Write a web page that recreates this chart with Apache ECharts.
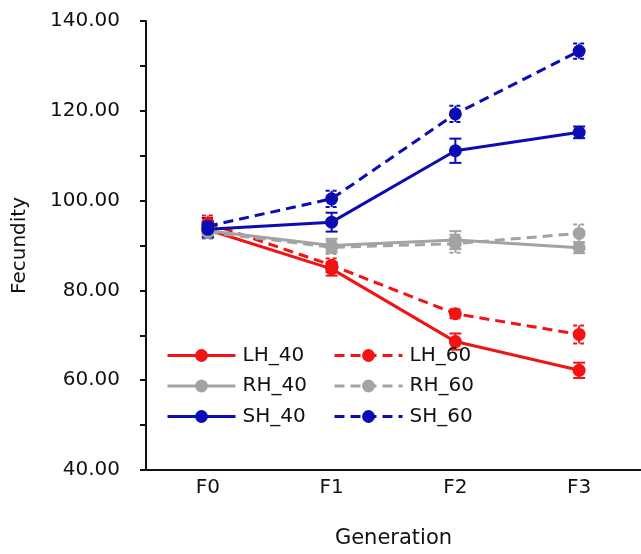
<!DOCTYPE html>
<html>
<head>
<meta charset="utf-8">
<script src="https://cdn.jsdelivr.net/npm/echarts@6/dist/echarts.min.js"></script>
<style>
  html, body { margin: 0; padding: 0; background: #fff; }
  #chart { width: 641px; height: 554px; }
</style>
</head>
<body>
<div id="chart"></div>
<script>
const categories = ["F0", "F1", "F2", "F3"];
const lh40 = [93.5, 84.8, 68.6, 62.2];
const lh40Err = [1.5, 1.5, 1.8, 1.7];
const lh60 = [95.0, 85.6, 74.8, 70.2];
const lh60Err = [1.7, 1.5, 1.0, 2.0];
const rh40 = [93.3, 90.0, 91.2, 89.5];
const rh40Err = [1.5, 1.5, 2.0, 1.2];
const rh60 = [93.0, 89.6, 90.4, 92.7];
const rh60Err = [1.5, 1.5, 2.0, 2.0];
const sh40 = [93.6, 95.2, 111.1, 115.2];
const sh40Err = [1.8, 2.1, 2.7, 1.3];
const sh60 = [94.3, 100.4, 119.3, 133.3];
const sh60Err = [1.8, 1.8, 1.8, 1.7];

const RED = "#f01414", GREY = "#a3a3a3", BLUE = "#0c0cb4";
const font = "DejaVu Sans";

const groups = [
  { name: "LH_40", data: lh40, err: lh40Err, color: RED, dashed: false },
  { name: "LH_60", data: lh60, err: lh60Err, color: RED, dashed: true },
  { name: "RH_40", data: rh40, err: rh40Err, color: GREY, dashed: false },
  { name: "RH_60", data: rh60, err: rh60Err, color: GREY, dashed: true },
  { name: "SH_40", data: sh40, err: sh40Err, color: BLUE, dashed: false },
  { name: "SH_60", data: sh60, err: sh60Err, color: BLUE, dashed: true },
];

function errorBars(g) {
  return {
    name: g.name + " err",
    type: "custom",
    z: 1,
    silent: true,
    encode: { x: 0, y: [1, 2] },
    data: g.data.map((v, i) => [i, v - g.err[i], v + g.err[i]]),
    renderItem(params, api) {
      const lo = api.coord([api.value(0), api.value(1)]);
      const hi = api.coord([api.value(0), api.value(2)]);
      const style = { stroke: g.color, lineWidth: 2, lineDash: g.dashed ? [4, 3] : null };
      return {
        type: "group",
        children: [
          { type: "line", shape: { x1: lo[0], y1: lo[1], x2: hi[0], y2: hi[1] }, style },
          { type: "line", shape: { x1: lo[0] - 6, y1: lo[1], x2: lo[0] + 6, y2: lo[1] }, style },
          { type: "line", shape: { x1: hi[0] - 6, y1: hi[1], x2: hi[0] + 6, y2: hi[1] }, style },
        ],
      };
    },
  };
}

const lineSeries = groups.map(g => ({
  name: g.name,
  type: "line",
  z: 3,
  data: g.data,
  symbol: "circle",
  symbolSize: 13,
  itemStyle: { color: g.color },
  lineStyle: { color: g.color, width: 3, type: g.dashed ? [10, 6] : "solid" },
}));

const legendBase = {
  orient: "vertical",
  itemWidth: 68,
  itemHeight: 16,
  itemGap: 9.5,
  padding: 0,
  top: 345,
  lineStyle: { width: 3 },
  textStyle: { fontFamily: font, fontSize: 20, lineHeight: 21, color: "#111", padding: [0, 0, 0, 2] },
  selectedMode: false,
};

const chart = echarts.init(document.getElementById("chart"));
chart.setOption({
  animation: false,
  textStyle: { fontFamily: font },
  grid: { left: 146, right: 0, top: 21, bottom: 78 },
  legend: [
    { ...legendBase, left: 166, data: ["LH_40", "RH_40", "SH_40"] },
    { ...legendBase, left: 333, data: ["LH_60", "RH_60", "SH_60"] },
  ],
  xAxis: {
    type: "category",
    data: categories,
    name: "Generation",
    nameLocation: "middle",
    nameGap: 58,
    nameTextStyle: { fontSize: 21, color: "#111", fontFamily: font },
    axisLine: { lineStyle: { color: "#111", width: 2 } },
    axisTick: { alignWithLabel: true, length: 6, lineStyle: { color: "#111", width: 2 } },
    axisLabel: { fontSize: 20, color: "#111", margin: 8, fontFamily: font },
  },
  yAxis: {
    type: "value",
    min: 40,
    max: 140,
    interval: 10,
    name: "Fecundity",
    nameLocation: "middle",
    nameGap: 116,
    nameRotate: 90,
    nameTextStyle: { fontSize: 20, color: "#111", fontFamily: font },
    axisLine: { show: true, lineStyle: { color: "#111", width: 2 } },
    axisTick: { show: true, length: 6, lineStyle: { color: "#111", width: 2 } },
    axisLabel: {
      fontSize: 20, color: "#111", margin: 26, fontFamily: font,
      formatter: v => v % 20 === 0 ? v.toFixed(2) : "",
    },
    splitLine: { show: false },
  },
  series: [...groups.map(errorBars), ...lineSeries],
});
</script>
</body>
</html>
